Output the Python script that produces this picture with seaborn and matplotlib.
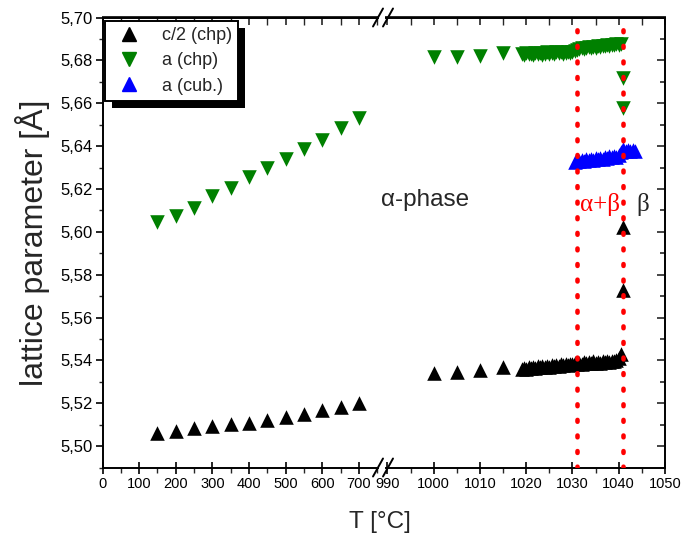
import numpy as np
import matplotlib.pyplot as plt
import seaborn as sns
from matplotlib.ticker import MultipleLocator, FuncFormatter
from matplotlib.patches import Rectangle
from matplotlib.lines import Line2D

sns.set_theme(style="ticks")
plt.rcParams['font.family'] = ['Liberation Sans', 'DejaVu Sans']

# --- low temperature segment (0-750 °C) ---
t_low = [150, 200, 250, 300, 350, 400, 450, 500, 550, 600, 650, 700]
c2_chp_low = [5.5059, 5.5070, 5.5085, 5.5093, 5.5101, 5.5109, 5.5124, 5.5136,
              5.5152, 5.5168, 5.5183, 5.5199]
a_chp_low = [5.6045, 5.6075, 5.6112, 5.6165, 5.6203, 5.6257, 5.6296, 5.6338,
             5.6385, 5.6428, 5.6483, 5.6529]

# --- high temperature segment (990-1050 °C) ---
t_high = [1000, 1005, 1010, 1015,
          1019, 1019.5, 1020, 1020.5, 1021, 1021.5, 1022, 1022.5, 1023, 1023.5,
          1024, 1024.5, 1025, 1025.5, 1026, 1026.5, 1027, 1027.5, 1028, 1028.5,
          1029, 1029.5, 1030, 1030.5, 1031, 1031.5, 1032, 1032.5, 1033, 1033.5,
          1034, 1034.5, 1035, 1035.5, 1036, 1036.5, 1037, 1037.5, 1038, 1038.5,
          1039, 1039.5, 1040, 1040.5, 1041, 1041]
a_chp_high = [5.6814, 5.6816, 5.6820, 5.6833,
              5.6830, 5.6826, 5.6833, 5.6828, 5.6831, 5.6825, 5.6834, 5.6829, 5.6836, 5.6827,
              5.6832, 5.6838, 5.6830, 5.6835, 5.6829, 5.6837, 5.6833, 5.6839, 5.6831, 5.6836,
              5.6840, 5.6834, 5.6838, 5.6842, 5.6848, 5.6853, 5.6856, 5.6852, 5.6858, 5.6861,
              5.6857, 5.6863, 5.6860, 5.6866, 5.6862, 5.6868, 5.6865, 5.6871, 5.6867, 5.6874,
              5.6870, 5.6877, 5.6873, 5.6876, 5.6716, 5.6576]
c2_chp_high = [5.5339, 5.5346, 5.5354, 5.5370,
               5.5362, 5.5366, 5.5360, 5.5368, 5.5364, 5.5370, 5.5366, 5.5372, 5.5367, 5.5374,
               5.5369, 5.5375, 5.5371, 5.5377, 5.5373, 5.5379, 5.5375, 5.5381, 5.5377, 5.5383,
               5.5379, 5.5384, 5.5381, 5.5386, 5.5383, 5.5388, 5.5385, 5.5391, 5.5387, 5.5393,
               5.5389, 5.5395, 5.5390, 5.5394, 5.5388, 5.5396, 5.5391, 5.5397, 5.5393, 5.5398,
               5.5395, 5.5402, 5.5410, 5.5432, 5.5728, 5.6023]

t_cub = [1030.5, 1031, 1031.5, 1032, 1032.5, 1033, 1033.5, 1034, 1034.5, 1035,
         1035.5, 1036, 1036.5, 1037, 1037.5, 1038, 1038.5, 1039, 1039.5, 1040,
         1040.5, 1041, 1041.5, 1042, 1042.5, 1043, 1043.5]
a_cub = [5.6327, 5.6332, 5.6329, 5.6335, 5.6331, 5.6338, 5.6334, 5.6340, 5.6336, 5.6343,
         5.6339, 5.6346, 5.6342, 5.6349, 5.6345, 5.6352, 5.6348, 5.6355, 5.6351, 5.6360,
         5.6372, 5.6386, 5.6378, 5.6382, 5.6376, 5.6380, 5.6377]

phase_lines = [1031, 1041]

BLACK = "#000000"
GREEN = "#008000"
BLUE = "#0000ff"
RED = "#ff0000"
MS = 110

W, H = 697, 543
fig = plt.figure(figsize=(W / 100, H / 100), dpi=100)
fig.patch.set_facecolor("white")
ax1 = fig.add_axes([102.5 / W, 1 - 467.5 / H, (378 - 102.5) / W, 450 / H])
ax2 = fig.add_axes([386 / W, 1 - 467.5 / H, (665 - 386) / W, 450 / H], sharey=ax1)

for ax in (ax1, ax2):
    ax.set_facecolor("none")

# data
sns.scatterplot(x=t_low, y=c2_chp_low, ax=ax1, marker="^", color=BLACK, s=MS, linewidth=0)
sns.scatterplot(x=t_low, y=a_chp_low, ax=ax1, marker="v", color=GREEN, s=MS, linewidth=0)
sns.scatterplot(x=t_high, y=a_chp_high, ax=ax2, marker="v", color=GREEN, s=MS, linewidth=0)
sns.scatterplot(x=t_cub, y=a_cub, ax=ax2, marker="^", color=BLUE, s=MS, linewidth=0)
sns.scatterplot(x=t_high, y=c2_chp_high, ax=ax2, marker="^", color=BLACK, s=MS, linewidth=0)

for xv in phase_lines:
    ax2.axvline(xv, color=RED, linewidth=3.3, linestyle=(0, (0.4, 3.0)),
                dash_capstyle="round", zorder=3)

ax1.set_xlim(0, 752)
ax2.set_xlim(989.68, 1050)
ax1.set_ylim(5.49, 5.70)

comma = FuncFormatter(lambda v, p: f"{v:.2f}".replace(".", ","))
ax1.yaxis.set_major_locator(MultipleLocator(0.02))
ax1.yaxis.set_minor_locator(MultipleLocator(0.01))
ax1.yaxis.set_major_formatter(comma)
ax1.set_xticks(np.arange(0, 701, 100))
ax1.xaxis.set_minor_locator(MultipleLocator(50))
ax2.set_xticks(np.arange(990, 1051, 10))
ax2.xaxis.set_minor_locator(MultipleLocator(5))

for ax in (ax1, ax2):
    for s in ax.spines.values():
        s.set_linewidth(1.4)
        s.set_color("black")
    ax.tick_params(axis="x", which="major", bottom=True, top=False, direction="inout",
                   length=8, width=1.2, labelsize=10.5, pad=3, colors="black")
    ax.tick_params(axis="x", which="minor", bottom=True, top=False, direction="out",
                   length=3.5, width=1.0)
    ax.grid(False)

ax1.spines["right"].set_visible(False)
ax2.spines["left"].set_visible(False)
ax1.tick_params(axis="y", which="major", left=True, right=False, direction="out",
                length=5, width=1.2, labelsize=12, pad=2, colors="black")
ax1.tick_params(axis="y", which="minor", left=True, right=False, direction="out",
                length=3, width=1.0)
ax2.tick_params(axis="y", which="both", left=False, right=True, labelleft=False,
                direction="in", width=1.2)
ax2.tick_params(axis="y", which="major", length=6)
ax2.tick_params(axis="y", which="minor", length=3.5)

# inward ticks on the top edge
for ax, ticks, minor in ((ax1, np.arange(0, 701, 100), 50), (ax2, np.arange(990, 1051, 10), 5)):
    sec = ax.secondary_xaxis("top")
    sec.set_xticks(ticks)
    sec.xaxis.set_minor_locator(MultipleLocator(minor))
    sec.tick_params(axis="x", which="major", direction="in", length=6, width=1.2, labeltop=False)
    sec.tick_params(axis="x", which="minor", direction="in", length=6, width=1.0)
    sec.spines["top"].set_linewidth(1.4)

# axis labels
fig.text(33 / W, 1 - 243 / H, "lattice parameter [Å]", rotation=90, ha="center",
         va="center", fontsize=23)
fig.text(380 / W, 1 - 522 / H, "T [°C]", ha="center", va="center", fontsize=17.5)

# annotations
fig.text(425 / W, 1 - 200 / H, "α-phase", ha="center", va="center", fontsize=17.5)
fig.text(600 / W, 1 - 205 / H, "α+β", ha="center", va="center", fontsize=18,
         color=RED, family="Liberation Serif")
fig.text(643 / W, 1 - 205 / H, "β", ha="center", va="center", fontsize=18,
         family="Liberation Serif")

# axis-break marks
for xc in (378, 388):
    for yc in (17.5, 467.5):
        fig.add_artist(Line2D([(xc - 5) / W, (xc + 5) / W],
                              [1 - (yc + 9) / H, 1 - (yc - 9) / H],
                              color="black", linewidth=1.4))

# legend with Origin-style shadow
handles = [
    Line2D([], [], marker="^", color=BLACK, linestyle="none", markersize=10.5),
    Line2D([], [], marker="v", color=GREEN, linestyle="none", markersize=10.5),
    Line2D([], [], marker="^", color=BLUE, linestyle="none", markersize=10.5),
]
leg = ax1.legend(handles, ["c/2 (chp)", "a (chp)", "a (cub.)"],
                 loc="upper left", bbox_to_anchor=(105 / W, 1 - 21 / H),
                 bbox_transform=fig.transFigure, borderaxespad=0, fontsize=13,
                 frameon=True, fancybox=False, framealpha=1, edgecolor="black",
                 labelspacing=0.45, handletextpad=0.8, borderpad=0.35,
                 handlelength=2.0)
leg.get_frame().set_linewidth(1.4)
fig.canvas.draw()
bb = leg.get_window_extent().transformed(fig.transFigure.inverted())
fig.add_artist(Rectangle((bb.x0 + 7 / W, bb.y0 - 7 / H), bb.width, bb.height,
                         transform=fig.transFigure, facecolor="black",
                         edgecolor="none", zorder=-1))

fig.savefig("out.png", dpi=100)
